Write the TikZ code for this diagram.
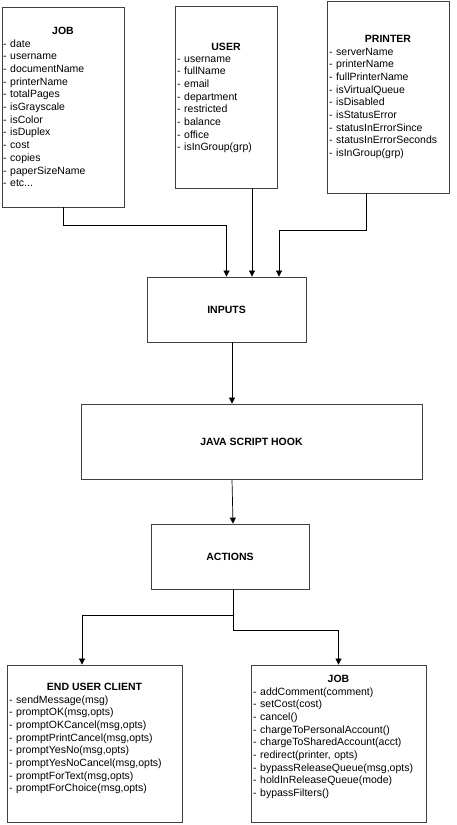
\documentclass[tikz,border=0pt]{standalone}
\usepackage{fontspec}
\setmainfont{Liberation Sans}
\usetikzlibrary{arrows.meta}
\usetikzlibrary{calc}
\tikzset{
  box/.style={draw=black!75, line width=0.8pt, inner sep=0, anchor=center,
    font=\fontsize{10.5}{12.7}\selectfont\bfseries},
  title/.style={anchor=base, inner sep=0, font=\fontsize{10.5}{12.7}\selectfont\bfseries},
  members/.style={anchor=base west, inner sep=0, align=left,
    font=\fontsize{10.5}{12.7}\selectfont},
  arrow/.style={-{Triangle[length=6pt,width=6pt]}, line width=0.7pt}
}
\begin{document}
\begin{tikzpicture}[x=1pt,y=-1pt]
  \useasboundingbox (0,0) rectangle (456,825);

  % objects passed in
  \node[box, minimum width=122, minimum height=200] (jobin) at (63,107) {};
  \node[title] (jobintitle) at (63,34) {JOB};
  \node[members, text width=118pt] (jobinlist) at (3,47) {- date\\- username\\- documentName\\- printerName\\- totalPages\\- isGrayscale\\- isColor\\- isDuplex\\- cost\\- copies\\- paperSizeName\\- etc...};

  \node[box, minimum width=102, minimum height=182] (user) at (226,97) {};
  \node[title] (usertitle) at (226,50) {USER};
  \node[members, text width=98pt] (userlist) at (177,62) {- username\\- fullName\\- email\\- department\\- restricted\\- balance\\- office\\- isInGroup(grp)};

  \node[box, minimum width=122, minimum height=192] (printer) at (388,97) {};
  \node[title] (printertitle) at (388,42) {PRINTER};
  \node[members, text width=118pt] (printerlist) at (329,55) {- serverName\\- printerName\\- fullPrinterName\\- isVirtualQueue\\- isDisabled\\- isStatusError\\- statusInErrorSince\\- statusInErrorSeconds\\- isInGroup(grp)};

  % flow
  \node[box, minimum width=159, minimum height=65] (inputs) at (226.5,309.5) {INPUTS};
  \node[box, minimum width=341, minimum height=75] (hook) at (251.5,441.5) {JAVA SCRIPT HOOK};
  \node[box, minimum width=158, minimum height=65] (actions) at (230,556.5) {ACTIONS};

  % objects acted on
  \node[box, minimum width=175, minimum height=157] (client) at (94.5,743.5) {};
  \node[title] (clienttitle) at (94.5,690) {END USER CLIENT};
  \node[members, text width=170pt] (clientlist) at (9,703) {- sendMessage(msg)\\- promptOK(msg,opts)\\- promptOKCancel(msg,opts)\\- promptPrintCancel(msg,opts)\\- promptYesNo(msg,opts)\\- promptYesNoCancel(msg,opts)\\- promptForText(msg,opts)\\- promptForChoice(msg,opts)};

  \node[box, minimum width=175, minimum height=157] (jobout) at (338.5,743.5) {};
  \node[title] (jobouttitle) at (338.5,682) {JOB};
  \node[members, text width=170pt] (joboutlist) at (253,695) {- addComment(comment)\\- setCost(cost)\\- cancel()\\- chargeToPersonalAccount()\\- chargeToSharedAccount(acct)\\- redirect(printer, opts)\\- bypassReleaseQueue(msg,opts)\\- holdInReleaseQueue(mode)\\- bypassFilters()};

  % connectors
  \draw[arrow] (jobin.south) -- ++(0,18) -| (inputs.north);
  \draw[arrow] ([xshift=26pt]user.south) -- ([xshift=26pt]user.south |- inputs.north);
  \draw[arrow] ([xshift=-22pt]printer.south) -- ++(0,37) -| ([xshift=52.5pt]inputs.north);
  \draw[arrow] ([xshift=5.5pt]inputs.south) -- ([xshift=5.5pt]inputs.south |- hook.north);
  \draw[arrow] ([xshift=-19.5pt]hook.south) -- ([xshift=3pt]actions.north);
  \draw[arrow] ([xshift=3pt]actions.south) -- ++(0,26) -| ([xshift=-12.5pt]client.north);
  \draw[arrow] ([xshift=3pt]actions.south) -- ++(0,41) -| (jobout.north);
\end{tikzpicture}
\end{document}
